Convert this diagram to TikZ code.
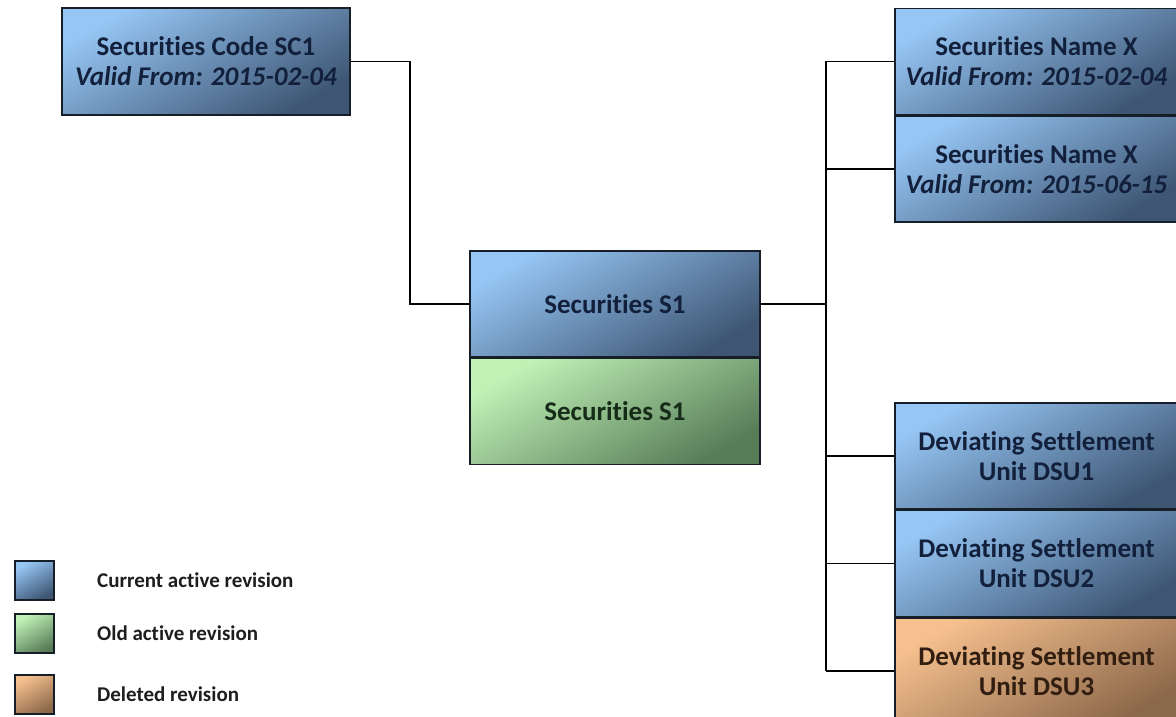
\documentclass[tikz,border=0pt]{standalone}
\usepackage{fontspec}
\setmainfont[Ligatures={NoCommon}]{Carlito}
\definecolor{blueL}{RGB}{150,198,244}
\definecolor{blueD}{RGB}{62,86,116}
\definecolor{greenL}{RGB}{192,242,182}
\definecolor{greenD}{RGB}{88,124,88}
\definecolor{orangeL}{RGB}{246,192,142}
\definecolor{orangeD}{RGB}{140,104,74}
\definecolor{boxline}{RGB}{22,30,40}
\definecolor{txtblue}{RGB}{18,32,60}
\definecolor{txtgreen}{RGB}{22,44,24}
\definecolor{txtorange}{RGB}{50,30,16}
\definecolor{legtxt}{RGB}{30,30,30}
\tikzset{
  box/.style={draw=boxline, line width=1.5pt, minimum width=283pt, minimum height=106pt,
    align=center, inner sep=0pt, font=\bfseries\fontsize{27}{30}\selectfont},
  curbox/.style={top color=blueL, bottom color=blueD, shading angle=30, text=txtblue},
  oldbox/.style={top color=greenL, bottom color=greenD, shading angle=30, text=txtgreen},
  delbox/.style={top color=orangeL, bottom color=orangeD, shading angle=30, text=txtorange},
  conn/.style={line width=1.6pt, draw=black},
  legsq/.style={draw=boxline, line width=1.5pt, minimum width=39pt, minimum height=39pt, inner sep=0pt},
  legtext/.style={anchor=west, inner sep=0pt, text=legtxt, font=\bfseries\fontsize{21}{24}\selectfont}
}
\begin{document}
\begin{tikzpicture}[x=1pt,y=-1pt]
\useasboundingbox (0,0) rectangle (1176,717);
\fill[white] (0,0) rectangle (1176,717);

\node[box, curbox, minimum width=288pt, minimum height=107pt] (sc1) at (206,61.5)
  {Securities Code SC1\\\textit{Valid From: 2015-02-04}};
\node[box, curbox, minimum width=290pt] (s1) at (615,304) {Securities S1};
\node[box, oldbox, minimum width=290pt, anchor=north] (s1old) at (s1.south) {Securities S1};

\node[box, curbox] (nx1) at (1036.5,61.5) {Securities Name X\\\textit{Valid From: 2015-02-04}};
\node[box, curbox, anchor=north] (nx2) at (nx1.south) {Securities Name X\\\textit{Valid From: 2015-06-15}};

\node[box, curbox] (dsu1) at (1036.5,456) {Deviating Settlement\\Unit DSU1};
\node[box, curbox, anchor=north] (dsu2) at (dsu1.south) {Deviating Settlement\\Unit DSU2};
\node[box, delbox, anchor=north] (dsu3) at (dsu2.south) {Deviating Settlement\\Unit DSU3};

\coordinate (bus1) at (410,0);
\coordinate (bus2) at (826,0);
\draw[conn] (sc1.east) -| (bus1 |- s1.west) -- (s1.west);
\draw[conn] (s1.east) -- (bus2 |- s1.east);
\draw[conn] (bus2 |- nx1.west) -- (bus2 |- dsu3.west);
\foreach \n in {nx1,nx2,dsu1,dsu2,dsu3} \draw[conn] (bus2 |- \n.west) -- (\n.west);

\node[legsq, curbox] (l1) at (34.5,580.5) {};
\node[legsq, oldbox] (l2) at (34.5,633.5) {};
\node[legsq, delbox] (l3) at (34.5,694.5) {};
\node[legtext] (t1) at (97,580.5) {Current active revision};
\node[legtext] (t2) at (97,633.5) {Old active revision};
\node[legtext] (t3) at (97,694.5) {Deleted revision};
\end{tikzpicture}
\end{document}
